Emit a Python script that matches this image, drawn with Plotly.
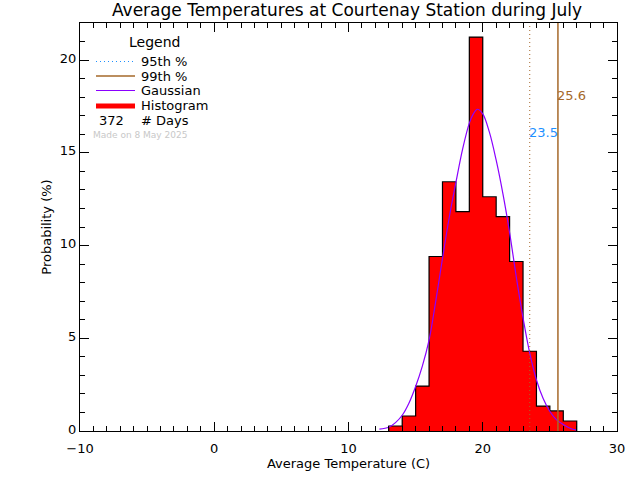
import plotly.graph_objects as go

# histogram bins (1 degree wide), percent of days
bin_left = [13, 14, 15, 16, 17, 18, 19, 20, 21, 22, 23, 24, 25, 26]
bin_pct = [0.27, 0.81, 2.42, 9.41, 13.44, 11.83, 21.24, 12.63, 11.56, 9.14, 4.30, 1.34, 1.08, 0.54]

# gaussian curve
gauss_x = [12.3, 13, 13.5, 14, 14.5, 15, 15.5, 16, 16.5, 17, 17.5, 18, 18.5, 19, 19.3, 19.6,
           20, 20.5, 21, 21.5, 22, 22.5, 23, 23.5, 24, 24.5, 25, 25.5, 26, 26.5, 27]
gauss_y = [0.1, 0.2, 0.45, 0.85, 1.5, 2.4, 3.5, 4.9, 7.0, 9.3, 11.5, 13.4, 15.2, 16.6, 17.1, 17.35,
           17.1, 16.1, 14.6, 12.8, 10.7, 8.3, 6.1, 4.2, 2.75, 1.75, 1.05, 0.6, 0.35, 0.15, 0.05]

p95 = 23.5
p99 = 25.6
p95_label_y = 16.1
p99_label_y = 18.1
x_range = [-10, 30]
y_range = [0, 22]

legend_rows = ["95th %", "99th %", "Gaussian", "Histogram", "# Days"]
n_days = "372"
made_on = "Made on 8 May 2025"
title = "Average Temperatures at Courtenay Station during July"

FONT = "DejaVu Sans"
BROWN = "#A5682A"
BLUE = "#1E90FF"
PURPLE = "#8A00FF"
W, H = 640, 480
L, R, T, B = 80, 23, 23, 49


def px_x(p):
    return (p - L) / (W - L - R)


def px_y(p):
    return 1 - (p - T) / (H - T - B)


# outline of the histogram as one step line
edges = []
tops = []
for left, pct in zip(bin_left, bin_pct):
    edges += [left, left + 1]
    tops += [pct, pct]
edges = [edges[0]] + edges + [edges[-1]]
tops = [0] + tops + [0]

fig = go.Figure()
fig.add_bar(x=[b + 0.5 for b in bin_left], y=bin_pct, width=1, marker=dict(color="#FF0000", line_width=0))
fig.add_scatter(x=edges, y=tops, mode="lines", line=dict(color="black", width=1.2))
fig.add_scatter(x=gauss_x, y=gauss_y, mode="lines", line=dict(color=PURPLE, width=1.2, shape="spline"))
fig.add_scatter(x=[p95, p95], y=y_range, mode="lines", line=dict(color=BROWN, width=1, dash="1px,3px"))
fig.add_scatter(x=[p99, p99], y=y_range, mode="lines", line=dict(color=BROWN, width=1.5))

fig.add_annotation(x=p95, y=p95_label_y, text=f"{p95}", showarrow=False, xanchor="left", xshift=-3,
                   font=dict(color=BLUE, size=13, family=FONT))
fig.add_annotation(x=p99, y=p99_label_y, text=f"{p99}", showarrow=False, xanchor="left", xshift=-3,
                   font=dict(color=BROWN, size=13, family=FONT))


def note(px, py, text, color="black", size=13):
    fig.add_annotation(xref="paper", yref="paper", x=px_x(px), y=px_y(py), text=text, showarrow=False,
                       xanchor="left", yanchor="middle", xshift=-2,
                       font=dict(color=color, size=size, family=FONT))


def key(py, color, width, dash="solid"):
    fig.add_shape(type="line", xref="paper", yref="paper", x0=px_x(96), x1=px_x(135), y0=px_y(py), y1=px_y(py),
                  line=dict(color=color, width=width, dash=dash))


# hand-placed legend like the original
note(129, 42, "Legend", size=14)
rows_y = [61.5, 76, 90.5, 106, 120]
for row, py in zip(legend_rows, rows_y):
    note(141, py, row)
key(rows_y[0], BLUE, 1, "1px,3px")
key(rows_y[1], BROWN, 1.5)
key(rows_y[2], PURPLE, 1.2)
key(rows_y[3], "#FF0000", 5)
note(99, rows_y[4], n_days)
note(93, 135, made_on, color="#C8C8C8", size=9)

axis_style = dict(
    showgrid=False, zeroline=False, showline=True, linecolor="black", linewidth=1, mirror="allticks",
    ticks="inside", ticklen=9, tickcolor="black", tickwidth=1,
    tickfont=dict(size=13, family=FONT, color="black"),
)
fig.update_xaxes(range=x_range, tick0=-10, dtick=10, ticklabelstandoff=5,
                 title=dict(text="Average Temperature (C)", standoff=3,
                            font=dict(size=13, family=FONT, color="black")),
                 minor=dict(ticks="inside", dtick=1, ticklen=5, tickcolor="black", tickwidth=1, showgrid=False),
                 **axis_style)
fig.update_yaxes(range=y_range, tick0=0, dtick=5, ticklabelshift=-2,
                 title=dict(text="Probability (%)", standoff=5,
                            font=dict(size=13, family=FONT, color="black")),
                 minor=dict(ticks="inside", dtick=1, ticklen=5, tickcolor="black", tickwidth=1, showgrid=False),
                 **axis_style)
fig.update_layout(
    width=W, height=H, margin=dict(l=L, r=R, t=T, b=B), showlegend=False, bargap=0,
    plot_bgcolor="white", paper_bgcolor="white",
    title=dict(text=title, x=347 / W, xanchor="center", y=1 - 10 / H, yanchor="middle",
               font=dict(size=17, family=FONT, color="black")),
)
# the page's default body margin would push the plot 8px off
fig.write_html("out.html", post_script="document.body.style.margin = '0';",
               config={"displayModeBar": False})
